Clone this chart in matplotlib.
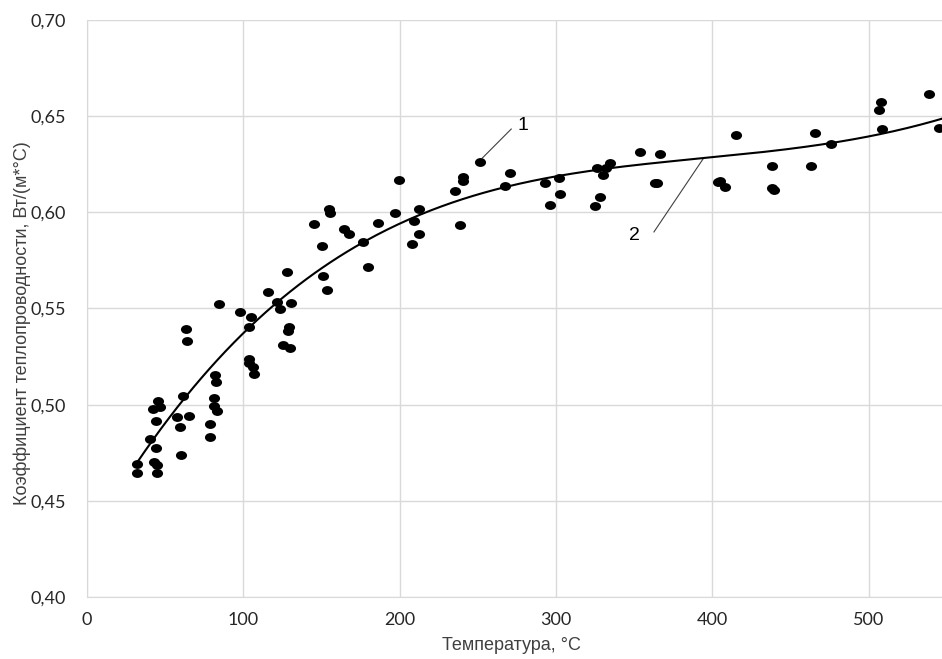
import numpy as np
import matplotlib
matplotlib.use("Agg")
import matplotlib.pyplot as plt
from matplotlib.path import Path
from matplotlib.ticker import MultipleLocator, FuncFormatter

plt.rcParams['font.family'] = ['Liberation Sans', 'DejaVu Sans']

# measured points: temperature, °C and conductivity, W/(m*°C)
temperature = [31.8, 31.8, 40.3, 42.0, 43.0, 43.9, 43.9, 44.6, 45.0, 45.6,
               46.9, 57.7, 59.5, 60.1, 61.6, 63.3, 63.7, 65.4, 78.6, 78.6,
               81.2, 81.4, 81.8, 82.3, 82.9, 84.6, 97.8, 103.6, 103.6, 103.8,
               104.9, 105.9, 107.0, 115.9, 121.3, 123.4, 125.5, 127.7, 128.3, 129.0,
               129.8, 130.2, 145.1, 150.3, 150.9, 153.3, 154.9, 155.6, 164.3, 167.5,
               176.3, 179.9, 185.9, 197.1, 199.7, 207.8, 208.9, 212.5, 212.5, 235.3,
               238.9, 240.6, 240.6, 251.3, 267.3, 270.5, 293.3, 296.0, 301.9, 302.4,
               324.8, 326.5, 328.0, 330.1, 332.3, 334.9, 353.6, 363.2, 364.6, 366.4,
               403.7, 405.2, 408.4, 415.0, 438.4, 438.4, 439.2, 463.4, 465.7, 475.9,
               506.4, 507.7, 508.5, 539.0, 545.4]
conductivity = [0.4690, 0.4646, 0.4820, 0.4977, 0.4700, 0.4915, 0.4776, 0.4684, 0.4646, 0.5019,
                0.4986, 0.4937, 0.4885, 0.4736, 0.5045, 0.5395, 0.5332, 0.4939, 0.4901, 0.4833,
                0.5036, 0.4993, 0.5155, 0.5118, 0.4967, 0.5522, 0.5483, 0.5237, 0.5218, 0.5405,
                0.5454, 0.5194, 0.5159, 0.5584, 0.5532, 0.5497, 0.5310, 0.5688, 0.5383, 0.5405,
                0.5293, 0.5527, 0.5939, 0.5823, 0.5667, 0.5598, 0.6017, 0.5996, 0.5912, 0.5887,
                0.5844, 0.5714, 0.5944, 0.5998, 0.6166, 0.5834, 0.5955, 0.6016, 0.5886, 0.6112,
                0.5934, 0.6182, 0.6163, 0.6263, 0.6137, 0.6206, 0.6154, 0.6036, 0.6180, 0.6094,
                0.6033, 0.6232, 0.6080, 0.6196, 0.6229, 0.6258, 0.6312, 0.6151, 0.6154, 0.6302,
                0.6156, 0.6164, 0.6133, 0.6402, 0.6242, 0.6125, 0.6118, 0.6242, 0.6412, 0.6354,
                0.6532, 0.6575, 0.6432, 0.6614, 0.6437]

# trend line (curve 2)
trend_t = [31.8, 50.9, 100, 200, 251, 300, 378.7, 400, 468.1, 500, 547]
trend_k = [0.4695, 0.4920, 0.5362, 0.5951, 0.6094, 0.6182, 0.6270, 0.6286, 0.6346, 0.6402, 0.6484]

T = np.array(temperature)
k = np.array(conductivity)

# polynomial trend line, like the spreadsheet one
coef = np.polyfit(trend_t, trend_k, 4)
t_fit = np.linspace(trend_t[0], trend_t[-1], 300)
k_fit = np.polyval(coef, t_fit)

fig = plt.figure(figsize=(9.42, 6.59), dpi=100)
ax = fig.add_axes([0.0924, 0.0941, 0.9076, 0.8756])

# slightly flattened circle marker
circ = Path.unit_circle()
marker = Path(circ.vertices * np.array([1.0, 0.8]), circ.codes)

ax.scatter(T, k, marker=marker, s=64, color='black', zorder=3, linewidths=0)
ax.plot(t_fit, k_fit, color='black', lw=1.5, zorder=4)

# labels 1 (points) and 2 (trend line)
ax.plot([252.9, 271.4], [0.6282, 0.6433], color='#404040', lw=0.8)
ax.text(279, 0.6449, '1', fontsize=14, ha='center', va='center')
ax.plot([362.7, 394.5], [0.5898, 0.6282], color='#404040', lw=0.8)
ax.text(350, 0.5882, '2', fontsize=14, ha='center', va='center')

ax.set_xlim(0, 547)
ax.set_ylim(0.40, 0.70)
ax.xaxis.set_major_locator(MultipleLocator(100))
ax.yaxis.set_major_locator(MultipleLocator(0.05))
ax.yaxis.set_major_formatter(FuncFormatter(lambda v, p: f"{v:.2f}".replace('.', ',')))

ax.grid(True, color='#d9d9d9', lw=1)
ax.set_axisbelow(True)
for s in ['top', 'right']:
    ax.spines[s].set_visible(False)
for s in ['left', 'bottom']:
    ax.spines[s].set_color('#d9d9d9')
ax.tick_params(length=0, labelsize=13, colors='#262626')
ax.tick_params(axis='y', pad=15)
ax.tick_params(axis='x', pad=11)
for lab in ax.get_xticklabels() + ax.get_yticklabels():
    lab.set_family('Lato')

ax.set_xlabel('Температура, °С', fontsize=13, color='#404040')
ax.set_ylabel('Коэффициент теплопроводности, Вт/(м*°С)', fontsize=13, color='#404040')
ax.xaxis.set_label_coords(0.496, -0.07)
ax.yaxis.set_label_coords(-0.066, 0.474)

fig.savefig('out.png', dpi=100)
